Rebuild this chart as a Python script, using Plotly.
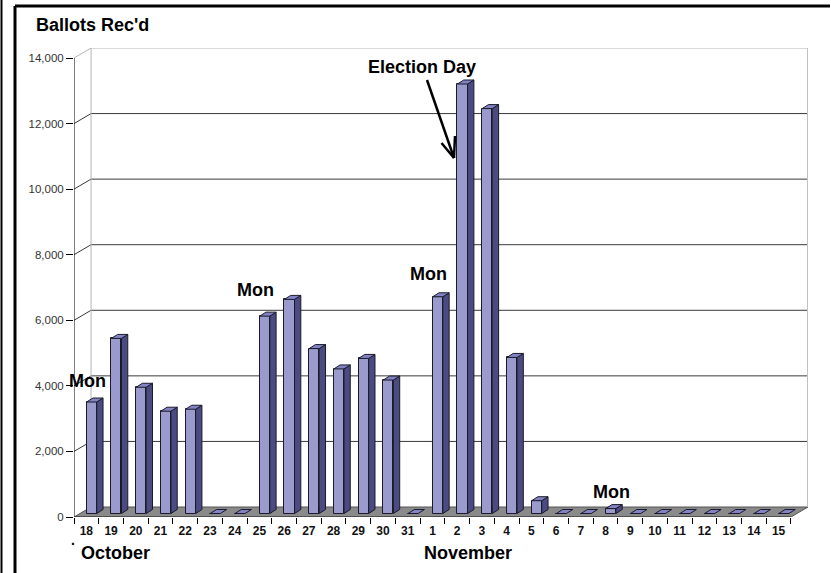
import plotly.graph_objects as go

# ---------------- data ----------------
days = ["18", "19", "20", "21", "22", "23", "24", "25", "26", "27", "28", "29", "30", "31",
        "1", "2", "3", "4", "5", "6", "7", "8", "9", "10", "11", "12", "13", "14", "15"]
ballots = [3400, 5340, 3850, 3120, 3180, 0, 0, 6020, 6530, 5030, 4410, 4730, 4070, 0,
           6610, 13100, 12350, 4760, 390, 0, 0, 150, 0, 0, 0, 0, 0, 0, 0]
months = ["October", "November"]
month_label_px = [115, 468]          # label centres (pixels)
monday_idx = [0, 7, 14, 21]
mon_label_px = [(87, 381), (255, 290), (428, 274), (611, 492)]
y_ticks = [0, 2000, 4000, 6000, 8000, 10000, 12000, 14000]

# ---------------- geometry ----------------
W, H = 831, 573
L, R, T, B = 74, 23, 48, 56
n = len(days)
DX = 0.69                 # depth offset (x units)
DY = 305                  # depth offset (y units)
xr = [-0.5, n - 0.5 + DX]
yr = [0, y_ticks[-1] + DY]
ppx = (W - L - R) / (xr[1] - xr[0])
ppy = (H - T - B) / (yr[1] - yr[0])
BASE = 3.5 / ppy          # bars sit a little behind the floor front edge
FW = 0.41                 # front face width
FO = 0.01                 # front face offset from category centre
SDX = 6.3 / ppx           # bar side depth x
SDY = 4.0 / ppy           # bar side depth y

FRONT = "#9a9acc"
SIDE = "#4b4b82"
TOP = "#8282c4"
EDGE = "#1a1a2a"
FONT = "Arial, 'Liberation Sans', sans-serif"


def paper(xp, yp):
    return (xp - L) / (W - L - R), (H - B - yp) / (H - T - B)


idx = list(range(n))

fig = go.Figure()

# front faces
fig.add_trace(go.Bar(
    x=idx, y=ballots, base=BASE, width=FW, offset=FO,
    marker=dict(color=FRONT, line=dict(color=EDGE, width=1)),
    hoverinfo="skip"))

# side faces and top faces (polygons built from the data)
sx, sy, tx, ty = [], [], [], []
for i, v in zip(idx, ballots):
    x0 = i + FO
    x1 = x0 + FW
    y0 = BASE
    y1 = BASE + v
    if v > 0:
        sx += [x1, x1 + SDX, x1 + SDX, x1, x1, None]
        sy += [y0, y0 + SDY, y1 + SDY, y1, y0, None]
    tx += [x0, x1, x1 + SDX, x0 + SDX, x0, None]
    ty += [y1, y1, y1 + SDY, y1 + SDY, y1, None]

fig.add_trace(go.Scatter(x=sx, y=sy, mode="lines", fill="toself", fillcolor=SIDE,
                         line=dict(color=EDGE, width=1), hoverinfo="skip"))
fig.add_trace(go.Scatter(x=tx, y=ty, mode="lines", fill="toself", fillcolor=TOP,
                         line=dict(color=EDGE, width=1), hoverinfo="skip"))

shapes = []
# floor
x_left, x_right = -0.5, n - 0.5
shapes.append(dict(type="path", layer="below", xref="x", yref="y",
                   path=f"M{x_left},0 L{x_right},0 L{x_right + DX},{DY} L{x_left + DX},{DY} Z",
                   fillcolor="#8a8a8a", line=dict(color="#555555", width=1)))
# back-wall gridlines and side-wall diagonals
for v in y_ticks[1:]:
    col = "#b4b4b4" if v == y_ticks[-1] else "#3a3a3a"
    shapes.append(dict(type="line", layer="below", xref="x", yref="y",
                       x0=x_left + DX, x1=x_right + DX, y0=v + DY, y1=v + DY,
                       line=dict(color=col, width=1)))
    shapes.append(dict(type="line", layer="below", xref="x", yref="y",
                       x0=x_left, x1=x_left + DX, y0=v, y1=v + DY,
                       line=dict(color=col, width=1)))
# back-wall left & right verticals
shapes.append(dict(type="line", layer="below", xref="x", yref="y",
                   x0=x_left + DX, x1=x_left + DX, y0=DY, y1=y_ticks[-1] + DY,
                   line=dict(color="#b4b4b4", width=1)))
shapes.append(dict(type="line", layer="below", xref="x", yref="y",
                   x0=x_right + DX, x1=x_right + DX, y0=DY, y1=y_ticks[-1] + DY,
                   line=dict(color="#c0c0c0", width=2)))
# y axis line
shapes.append(dict(type="line", xref="x", yref="y", x0=x_left, x1=x_left,
                   y0=0, y1=y_ticks[-1], line=dict(color="black", width=1)))
# floor front edge
shapes.append(dict(type="line", xref="x", yref="y", x0=x_left, x1=x_right,
                   y0=0, y1=0, line=dict(color="#333333", width=1)))

# outer frame
fx0, fy0 = paper(15, 6)
fx1, fy1 = paper(830, 580)
shapes.append(dict(type="line", xref="paper", yref="paper", x0=fx0, x1=fx1, y0=fy0, y1=fy0,
                   line=dict(color="black", width=3)))
shapes.append(dict(type="line", xref="paper", yref="paper", x0=fx0, x1=fx0, y0=fy0, y1=fy1,
                   line=dict(color="black", width=3)))
ex, ey0 = paper(1.5, 0)
_, ey1 = paper(1.5, 580)
shapes.append(dict(type="line", xref="paper", yref="paper", x0=ex, x1=ex, y0=ey0, y1=ey1,
                   line=dict(color="black", width=2)))

# election day arrow
def seg(a, b, w=2.5):
    (xa, ya), (xb, yb) = paper(*a), paper(*b)
    shapes.append(dict(type="line", xref="paper", yref="paper", x0=xa, y0=ya, x1=xb, y1=yb,
                       line=dict(color="black", width=w)))

tip = (454, 158)
seg((427, 80), tip)
seg((441.5, 143), tip)
seg((455, 136), tip)

annotations = []
def text(t, xp, yp, size=18, anchor="center", bold=True):
    xx, yy = paper(xp, yp)
    annotations.append(dict(text=t, xref="paper", yref="paper", x=xx, y=yy,
                            xanchor=anchor, yanchor="middle", showarrow=False,
                            font=dict(family=FONT, size=size, color="black",
                                      weight="bold" if bold else "normal")))

text("Ballots Rec'd", 34, 25, anchor="left")
for (xp, yp) in mon_label_px:
    text("Mon", xp, yp)
text("Election Day", 422, 67)
for m, xp in zip(months, month_label_px):
    text(m, xp, 553)
text(".", 73, 540, size=14)

fig.update_layout(
    width=W, height=H,
    margin=dict(l=L, r=R, t=T, b=B, pad=0),
    paper_bgcolor="white", plot_bgcolor="white",
    showlegend=False, hovermode=False,
    bargap=0,
    shapes=shapes, annotations=annotations,
    xaxis=dict(range=xr, tickmode="array", tickvals=idx, ticktext=days,
               ticks="outside", ticklen=3, tickcolor="rgba(0,0,0,0)",
               tickfont=dict(family=FONT, size=12, color="#111111", weight="bold"),
               showgrid=False, zeroline=False, showline=False, fixedrange=True,
               minor=dict(tickmode="array", tickvals=[i - 0.5 for i in range(n + 1)],
                          ticks="outside", ticklen=6, tickcolor="black", tickwidth=1,
                          showgrid=False)),
    yaxis=dict(range=yr, tickmode="array", tickvals=y_ticks, tickformat=",",
               ticks="outside", ticklen=7, tickcolor="black",
               tickfont=dict(family=FONT, size=11.5, color="#333333"),
               showgrid=False, zeroline=False, showline=False, fixedrange=True),
)

fig.write_html("out.html", config={"displayModeBar": False},
               post_script="document.body.style.margin='0';")
